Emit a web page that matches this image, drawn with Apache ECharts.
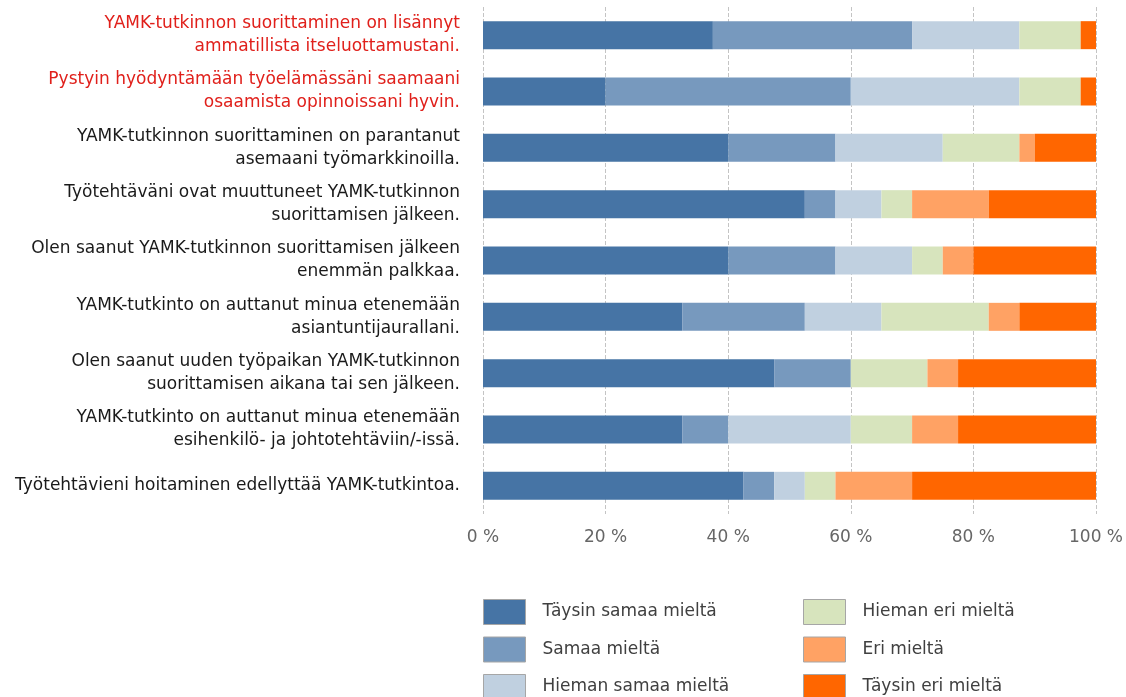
<!DOCTYPE html>
<html>
	<head>
		<meta charset="utf-8" />
		<title>YAMK</title>
		<script src="https://cdn.jsdelivr.net/npm/echarts@6/dist/echarts.min.js"></script>
		<style>
			body { margin: 0; background: #fff; }
			#main { width: 1126px; height: 697px; }
		</style>
	</head>
	<body>
		<div id="main"></div>
		<script>
			// kysymykset (ylhäältä alas)
			var kysymykset = [
				'YAMK-tutkinnon suorittaminen on lisännyt\nammatillista itseluottamustani.',
				'Pystyin hyödyntämään työelämässäni saamaani\nosaamista opinnoissani hyvin.',
				'YAMK-tutkinnon suorittaminen on parantanut\nasemaani työmarkkinoilla.',
				'Työtehtäväni ovat muuttuneet YAMK-tutkinnon\nsuorittamisen jälkeen.',
				'Olen saanut YAMK-tutkinnon suorittamisen jälkeen\nenemmän palkkaa.',
				'YAMK-tutkinto on auttanut minua etenemään\nasiantuntijaurallani.',
				'Olen saanut uuden työpaikan YAMK-tutkinnon\nsuorittamisen aikana tai sen jälkeen.',
				'YAMK-tutkinto on auttanut minua etenemään\nesihenkilö- ja johtotehtäviin/-issä.',
				'Työtehtävieni hoitaminen edellyttää YAMK-tutkintoa.'
			];
			var punaiset = [0, 1]; // punaisella merkityt rivit

			var vastaukset = ['Täysin samaa mieltä', 'Samaa mieltä', 'Hieman samaa mieltä',
				'Hieman eri mieltä', 'Eri mieltä', 'Täysin eri mieltä'];

			// prosentit
			var taysinSamaa = [37.5, 20, 40, 52.5, 40, 32.5, 47.5, 32.5, 42.5];
			var samaa       = [32.5, 40, 17.5, 5, 17.5, 20, 12.5, 7.5, 5];
			var hiemanSamaa = [17.5, 27.5, 17.5, 7.5, 12.5, 12.5, 0, 20, 5];
			var hiemanEri   = [10, 10, 12.5, 5, 5, 17.5, 12.5, 10, 5];
			var eri         = [0, 0, 2.5, 12.5, 5, 5, 5, 7.5, 12.5];
			var taysinEri   = [2.5, 2.5, 10, 17.5, 20, 12.5, 22.5, 22.5, 30];

			var xTicks = [0, 20, 40, 60, 80, 100];

			var varit = ['#4674a5', '#7799be', '#c0d0e0', '#d7e4bd', '#ffa264', '#ff6600'];
			var sarjat = [taysinSamaa, samaa, hiemanSamaa, hiemanEri, eri, taysinEri];

			var fontti = 'DejaVu Sans';
			var mycharts = echarts.init(document.getElementById('main'));

			var series = [];
			for (var i = 0; i < sarjat.length; i++) {
				series.push({
					name: vastaukset[i],
					type: 'bar',
					stack: 'kaikki',
					barWidth: 28,
					itemStyle: { color: varit[i] },
					data: sarjat[i]
				});
			}

			var legendStyle = {
				orient: 'vertical',
				top: 599,
				height: 120,
				padding: 0,
				itemWidth: 42,
				itemHeight: 25,
				itemGap: 11.5,
				icon: 'rect',
				itemStyle: { borderColor: '#a6a6a6', borderWidth: 1 },
				textStyle: { fontSize: 17, color: '#404040', fontFamily: fontti, padding: [0, 0, 0, 12] }
			};

			var option = {
				animation: false,
				grid: { left: 483, right: 30, top: 7, bottom: 183 },
				legend: [
					Object.assign({ left: 483, data: vastaukset.slice(0, 3) }, legendStyle),
					Object.assign({ left: 803, data: vastaukset.slice(3) }, legendStyle)
				],
				xAxis: {
					type: 'value',
					min: xTicks[0],
					max: xTicks[xTicks.length - 1],
					interval: 20,
					axisLine: { show: false },
					axisTick: { show: false },
					axisLabel: {
						formatter: '{value} %',
						fontSize: 17,
						color: '#666666',
						fontFamily: fontti,
						margin: 15
					},
					splitLine: { show: true, lineStyle: { type: 'dashed', color: '#c4c4c4', width: 1 } }
				},
				yAxis: {
					type: 'category',
					inverse: true,
					data: kysymykset,
					axisLine: { show: false },
					axisTick: { show: false },
					splitLine: { show: false },
					axisLabel: {
						fontSize: 17,
						lineHeight: 23,
						margin: 23,
						fontFamily: fontti,
						color: function (v, idx) {
							return punaiset.indexOf(idx) >= 0 ? '#e0201b' : '#1a1a1a';
						}
					}
				},
				series: series
			};
			mycharts.setOption(option);
		</script>
	</body>
</html>
